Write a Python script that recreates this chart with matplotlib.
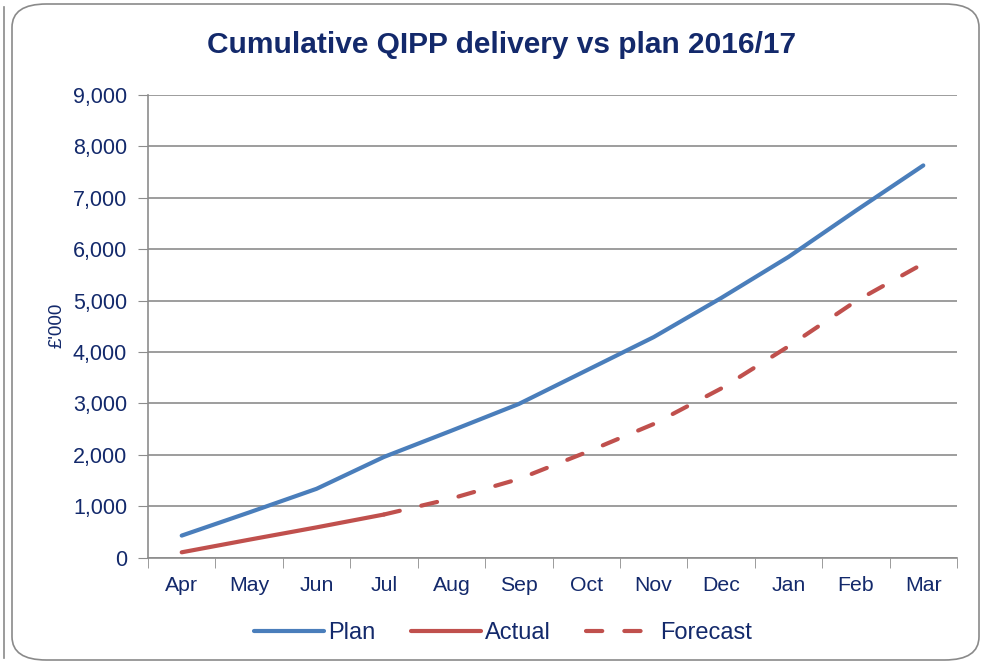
import matplotlib.pyplot as plt
from matplotlib.patches import FancyBboxPatch
from matplotlib.ticker import FuncFormatter
import numpy as np

plt.rcParams['font.family'] = ['Liberation Sans', 'DejaVu Sans']

# data
months = ['Apr', 'May', 'Jun', 'Jul', 'Aug', 'Sep', 'Oct', 'Nov', 'Dec', 'Jan', 'Feb', 'Mar']
plan = [430, 880, 1340, 1960, 2470, 2990, 3640, 4290, 5050, 5850, 6750, 7630]
actual = [105, 350, 590, 840]
forecast = [840, 1150, 1530, 2050, 2600, 3290, 4110, 4990, 5720]
forecast_start = 3  # forecast begins at Jul

navy = '#13296b'
grid_col = '#8c8c8c'
blue = '#4a7ebb'
red = '#c0504d'

fig = plt.figure(figsize=(9.82, 6.65), dpi=100)

# frame around the chart and edge of neighbouring panel
frame = FancyBboxPatch((12 / 982, 5 / 665), 967 / 982, 656 / 665,
                       boxstyle='round,pad=0,rounding_size=0.035',
                       transform=fig.transFigure, fill=False,
                       edgecolor='#8a8a8a', linewidth=1.2)
fig.patches.append(frame)
fig.add_artist(plt.Line2D([4 / 982, 4 / 982], [0.01, 0.99], transform=fig.transFigure,
                          color='#8a8a8a', linewidth=1.2))

ax = fig.add_axes([148 / 982, 1 - 557.7 / 665, 809 / 982, (557.7 - 95) / 665])

x = np.arange(len(months))
ax.plot(x, plan, color=blue, linewidth=3, solid_capstyle='round', label='Plan')
ax.plot(x[:len(actual)], actual, color=red, linewidth=3, solid_capstyle='round', label='Actual')
ax.plot(x[forecast_start:forecast_start + len(forecast)], forecast, color=red, linewidth=3,
        dashes=(3.9, 5.3), dash_capstyle='round', label='Forecast')

ax.set_xlim(-0.5, len(months) - 0.5)
ax.set_ylim(0, 9000)
ax.set_yticks(range(0, 9001, 1000))
ax.yaxis.set_major_formatter(FuncFormatter(lambda v, p: f'{int(v):,}'))
ax.set_xticks(x)
ax.set_xticklabels(months)
ax.set_xticks(np.arange(-0.5, len(months), 1), minor=True)
ax.tick_params(axis='x', which='major', length=0, pad=13, labelsize=15.3, labelcolor=navy)
ax.tick_params(axis='x', which='minor', length=7, color=grid_col, direction='out')
ax.tick_params(axis='y', length=7, color=grid_col, labelsize=15.5, labelcolor=navy, pad=8)

ax.grid(axis='y', color=grid_col, linewidth=1.2)
ax.set_axisbelow(True)
for s in ['top', 'right']:
    ax.spines[s].set_visible(False)
for s in ['left', 'bottom']:
    ax.spines[s].set_color(grid_col)
    ax.spines[s].set_linewidth(1.2)

ax.set_ylabel("£'000", color=navy, fontsize=13.5)
ax.yaxis.set_label_coords((66 - 148) / 809, (557.7 - 325) / (557.7 - 95))
fig.text(502 / 982, 1 - 45 / 665, 'Cumulative QIPP delivery vs plan 2016/17', ha='center', va='center',
         fontsize=21.5, fontweight='bold', color=navy)

leg = fig.legend(loc='center', bbox_to_anchor=(503 / 982, 1 - 633 / 665), ncol=3, frameon=False,
                 fontsize=17, handlelength=3.0, handletextpad=0.15, columnspacing=1.5)
for t in leg.get_texts():
    t.set_color(navy)

fig.savefig('out.png', dpi=100)
